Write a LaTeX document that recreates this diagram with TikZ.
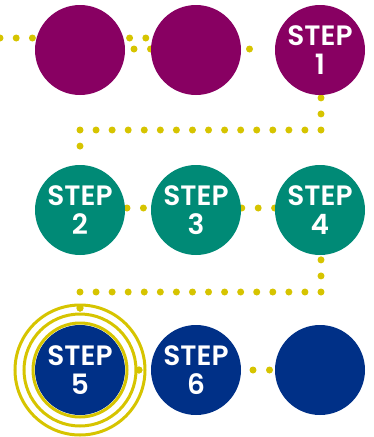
\documentclass[tikz,border=0pt]{standalone}
\usepackage{fontspec}
\setmainfont{Poppins}[BoldFont={Poppins SemiBold}]
\usetikzlibrary{backgrounds}
\definecolor{plum}{RGB}{136,0,98}
\definecolor{tealc}{RGB}{0,138,118}
\definecolor{navy}{RGB}{0,48,135}
\definecolor{mustard}{RGB}{214,196,0}
\tikzset{
  stepdisc/.style={circle, minimum size=90pt, inner sep=0pt, text=white, align=center,
    font=\bfseries\fontsize{28}{29}\selectfont},
  dotline/.style={mustard, line width=7pt, line cap=round, dash pattern=on 0pt off #1},
  ring/.style={draw=mustard, line width=3pt},
}
\begin{document}
\begin{tikzpicture}[x=1pt,y=-1pt]
\useasboundingbox (0,0) rectangle (373,437);
% discs
\node[stepdisc, fill=plum] (a1) at (80,50) {};
\node[stepdisc, fill=plum] (a2) at (196,50) {};
\node[stepdisc, fill=plum] (s1) at (320,50) {STEP\\1};
\node[stepdisc, fill=tealc] (s2) at (80,210) {STEP\\2};
\node[stepdisc, fill=tealc] (s3) at (196,210) {STEP\\3};
\node[stepdisc, fill=tealc] (s4) at (320,210) {STEP\\4};
\node[stepdisc, fill=navy] (s5) at (80,370) {STEP\\5};
\node[stepdisc, fill=navy] (s6) at (196,370) {STEP\\6};
\node[stepdisc, fill=navy] (b3) at (320,370) {};
% free ends of the dotted connectors
\coordinate (p0) at (0,38);
\coordinate (p1) at (146,38);
\coordinate (q0) at (134,49);
\coordinate (q1) at (266,49);
\coordinate (r0) at (321,97.87);
\coordinate (r1) at (321,130);
\coordinate (r2) at (80,130);
\coordinate (r3) at (80,162.13);
\coordinate (t0) at (127,208);
\coordinate (t1) at (275,208);
\coordinate (u0) at (321,259.87);
\coordinate (u1) at (321,292);
\coordinate (u2) at (80,292);
\coordinate (u3) at (80,308.1);
\coordinate (v0) at (139,370);
\coordinate (v1) at (149,370);
\coordinate (w0) at (253,370);
\coordinate (w1) at (275,370);
\begin{scope}[on background layer]
  \draw[dotline=16.2pt] (p0) -- (p1);
  \draw[dotline=16.5pt] (q0) -- (q1);
  \draw[dotline=16.067pt] (r0) -- (r1) -- (r2) -- (r3);
  \draw[dotline=16.4pt] (t0) -- (t1);
  \draw[dotline=16.067pt] (u0) -- (u1) -- (u2) -- (u3);
  \draw[dotline=16.5pt] (v0) -- (v1);
  \draw[dotline=16.5pt] (w0) -- (w1);
\end{scope}
% rings round step 5
\draw[ring] (s5) circle[radius=47pt];
\draw[ring] (s5) circle[radius=56pt];
\draw[ring] (s5) circle[radius=65pt];
\fill[mustard] (u3) circle[radius=3.5pt];
\fill[mustard] (v0) circle[radius=3.5pt];
\end{tikzpicture}
\end{document}
